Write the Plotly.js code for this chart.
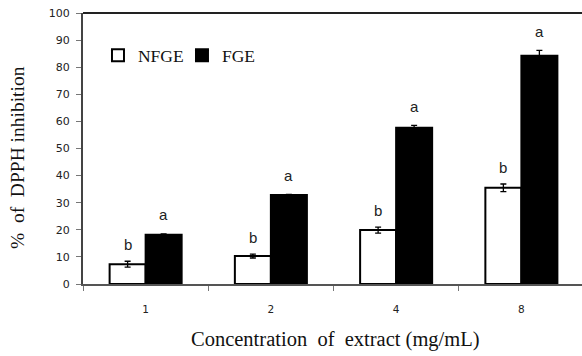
<!DOCTYPE html>
<html>
<head>
<meta charset="utf-8">
<script src="https://cdn.plot.ly/plotly-3.0.1.min.js"></script>
<style>html,body{margin:0;padding:0;background:#fff;}#chart{width:582px;height:356px;}</style>
</head>
<body>
<div id="chart"></div>
<script>
const categories = ["1", "2", "4", "8"];
const nfgeValues = [7.3, 10.3, 19.9, 35.5];
const nfgeErrors = [1.1, 0.7, 1.1, 1.4];
const nfgeLetters = ["b", "b", "b", "b"];
const fgeValues = [18.2, 32.8, 57.7, 84.2];
const fgeErrors = [0.3, 0.3, 0.8, 2.0];
const fgeLetters = ["a", "a", "a", "a"];
const yTicks = [0, 10, 20, 30, 40, 50, 60, 70, 80, 90, 100];

const errStyle = {type: "data", visible: true, color: "#000", thickness: 1.3, width: 3};

const traces = [
  {type: "bar", name: "NFGE", x: categories, y: nfgeValues,
   error_y: Object.assign({array: nfgeErrors}, errStyle),
   marker: {color: "#ffffff", line: {color: "#000", width: 2}}},
  {type: "bar", name: "FGE", x: categories, y: fgeValues,
   error_y: Object.assign({array: fgeErrors}, errStyle),
   marker: {color: "#000000", line: {color: "#000", width: 2}}}
];

const letterFont = {family: "Liberation Sans, Arial", size: 15, color: "#222"};
const annotations = [];
categories.forEach((c, i) => {
  annotations.push({x: i, y: nfgeValues[i] + nfgeErrors[i], xref: "x", yref: "y", text: nfgeLetters[i],
    showarrow: false, xshift: -18, yshift: 17, font: letterFont});
  annotations.push({x: i, y: fgeValues[i] + fgeErrors[i], xref: "x", yref: "y", text: fgeLetters[i],
    showarrow: false, xshift: 18, yshift: 19, font: letterFont});
});
annotations.push({xref: "paper", yref: "paper", x: 0.507, y: -0.203, xanchor: "center", yanchor: "middle", showarrow: false,
  text: "Concentration&nbsp; of&nbsp; extract (mg/mL)", font: {family: "Liberation Serif, Times New Roman", size: 20.5, color: "#111"}});
annotations.push({xref: "paper", yref: "paper", x: -0.130, y: 0.465, xanchor: "center", yanchor: "middle", textangle: -90, showarrow: false,
  text: "%&nbsp; of&nbsp; DPPH inhibition", font: {family: "Liberation Serif, Times New Roman", size: 19.5, color: "#111"}});

const layout = {
  width: 582, height: 356,
  margin: {l: 83, r: 0, t: 13, b: 72, pad: 0},
  paper_bgcolor: "#fff", plot_bgcolor: "#fff",
  barmode: "group", bargap: 0.425, bargroupgap: 0,
  showlegend: true,
  legend: {orientation: "h", x: 0.03, y: 0.91, xanchor: "left", yanchor: "top",
    font: {family: "Liberation Serif, Times New Roman", size: 17.5, color: "#111"},
    bgcolor: "rgba(0,0,0,0)", itemwidth: 30, traceorder: "normal", entrywidth: 39, entrywidthmode: "pixels"},
  xaxis: {type: "category", range: [-0.5, 3.484], showgrid: false, zeroline: false,
    showline: true, linecolor: "#555", linewidth: 1.5,
    ticks: "outside", tickson: "boundaries", ticklen: 5, tickcolor: "#777", tickwidth: 1,
    tickfont: {family: "DejaVu Sans, Verdana", size: 10.5, color: "#222"}, ticklabelstandoff: 15},
  yaxis: {range: [0, 100], tickvals: yTicks, showgrid: false, zeroline: false,
    showline: true, linecolor: "#444", linewidth: 2,
    ticks: "outside", ticklen: 5, tickcolor: "#777", tickwidth: 1,
    tickfont: {family: "DejaVu Sans, Verdana", size: 11, color: "#222"}, ticklabelstandoff: 4},
  shapes: [{type: "line", xref: "paper", yref: "paper", x0: 0, x1: 1, y0: 1, y1: 1, line: {color: "#222", width: 2}}],
  annotations: annotations
};

Plotly.newPlot("chart", traces, layout, {staticPlot: true, displayModeBar: false});
</script>
</body>
</html>
